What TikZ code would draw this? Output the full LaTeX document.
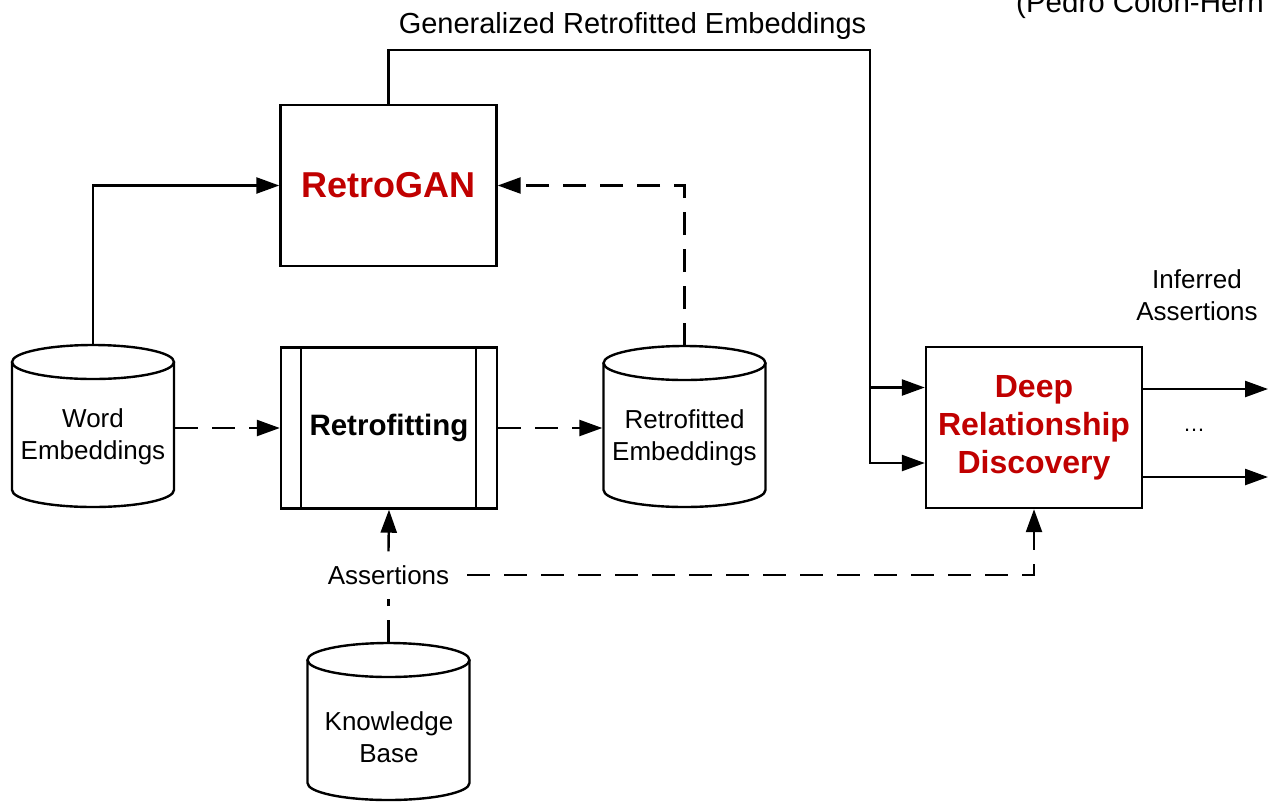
\documentclass[tikz,border=0pt]{standalone}
\usepackage{fontspec}
\setmainfont{Liberation Sans}
\usetikzlibrary{arrows.meta}
\definecolor{drred}{RGB}{192,0,0}
\begin{document}
\begin{tikzpicture}[x=1pt,y=-1pt,
  line width=2.4pt,
  box/.style={draw, minimum width=216pt, minimum height=161pt, inner sep=0pt, align=center},
  cyltext/.style={minimum width=162pt, minimum height=120pt, inner sep=0pt, align=center, font=\fontsize{26}{32}\selectfont},
  lbl/.style={font=\fontsize{26}{32}\selectfont, align=center, inner sep=0pt},
  arr/.style={-{Triangle[length=23pt,width=16pt]}},
  dsh/.style={dash pattern=on 23pt off 14pt},
]
\useasboundingbox (0,0) rectangle (1268,804);
\clip (0,0) rectangle (1268,804);

% titles
\node[anchor=base, inner sep=0pt, font=\fontsize{29}{34}\selectfont] (title) at (632.5,33) {Generalized Retrofitted Embeddings};
\node[anchor=base west, inner sep=0pt, font=\fontsize{29.5}{34}\selectfont] (author) at (1015,12) {(Pedro Colon-Hern};

% boxes
\node[box, font=\bfseries\fontsize{36}{40}\selectfont, text=drred] (gan) at (388.5,185.5) {RetroGAN};
\node[box, font=\bfseries\fontsize{29.5}{34}\selectfont] (ret) at (389,428) {Retrofitting};
\draw ([xshift=21pt]ret.north west) -- ([xshift=21pt]ret.south west);
\draw ([xshift=-22pt]ret.north east) -- ([xshift=-22pt]ret.south east);
\node[box, font=\bfseries\fontsize{32}{38}\selectfont, text=drred] (drd) at (1034,427.5) {Deep\\Relationship\\Discovery};

% cylinders
\draw (12,362) -- (12,490) arc[start angle=180,end angle=360,x radius=81pt,y radius=17pt] -- (174,362);
\draw (93,362) ellipse [x radius=81pt, y radius=17pt];
\node[cyltext] (we) at (93,437) {Word\\Embeddings};
\coordinate (wetop) at (93,345);

\draw (603.5,363) -- (603.5,490) arc[start angle=180,end angle=360,x radius=81pt,y radius=17pt] -- (765.5,363);
\draw (684.5,363) ellipse [x radius=81pt, y radius=17pt];
\node[cyltext] (re) at (684.5,437.5) {Retrofitted\\Embeddings};
\coordinate (retop) at (684.5,346);

\draw (307.5,660) -- (307.5,783) arc[start angle=180,end angle=360,x radius=81pt,y radius=17pt] -- (469.5,660);
\draw (388.5,660) ellipse [x radius=81pt, y radius=17pt];
\node[cyltext] (kb) at (389,737) {Knowledge\\Base};
\coordinate (kbtop) at (388.5,643);

% labels
\node[lbl, inner xsep=17pt, inner ysep=13pt] (as) at (388.5,575) {Assertions};
\node[lbl] (inf) at (1197,295) {Inferred\\Assertions};
\node[inner sep=0pt, font=\fontsize{22}{26}\selectfont] (dots) at (1194,430) {…};

% connectors
\draw[arr] (wetop) |- (gan.west);
\draw[arr,dsh] (retop) |- (gan.east);
\draw[arr,dsh] (ret.west -| we.east) -- (ret.west);
\draw[arr,dsh] (ret.east) -- (ret.east -| re.west);
\draw[arr,dsh] (as.north) -- (ret.south);
\draw[dsh] (kbtop) -- (as.south);
\draw[arr,dsh] (as.east) -| (drd.south);

\coordinate (corner) at (870,50);
\coordinate (in1) at ([yshift=40pt]drd.west);
\coordinate (in2) at ([yshift=-35.5pt]drd.west);
\draw[arr] (gan.north) |- (corner) |- (in2);
\draw[arr] (corner |- in1) -- (in1);

\coordinate (out1) at (1268,389);
\coordinate (out2) at (1268,477);
\draw[arr] (drd.east |- out1) -- (out1);
\draw[arr] (drd.east |- out2) -- (out2);
\end{tikzpicture}
\end{document}
